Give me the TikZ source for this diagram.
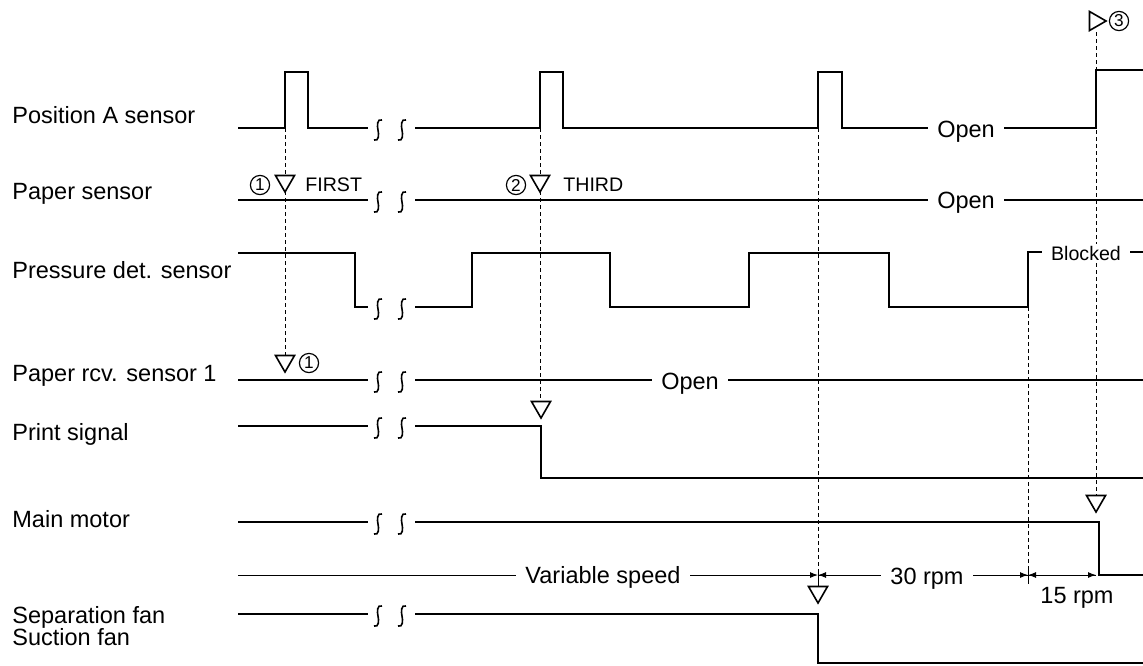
\documentclass[tikz,border=0pt]{standalone}
\usepackage{fontspec}
\setmainfont{Liberation Sans}
\usetikzlibrary{arrows.meta,shapes.geometric}

\begin{document}
\begin{tikzpicture}[x=0.5pt,y=-0.5pt,font=\fontsize{11.75}{14}\selectfont,
  sig/.style={line width=1.3pt},
  dim/.style={line width=0.5pt},
  guide/.style={line width=0.5pt,dash pattern=on 2pt off 1.5pt},
  lbl/.style={anchor=base west,inner sep=0pt},
  gap/.style={anchor=base,fill=white,inner xsep=4.5pt,inner ysep=1pt},
  small/.style={font=\fontsize{9.8}{12}\selectfont},
  circ/.style={circle,draw,line width=0.6pt,minimum size=9.6pt,inner sep=0pt,
    font=\fontsize{8.6}{9}\selectfont},
  tri/.style={regular polygon,regular polygon sides=3,shape border rotate=#1,draw,fill=white,
    line width=0.8pt,minimum size=11pt,inner sep=0pt,outer sep=0pt,anchor=corner 1},
  tip/.style={-{Latex[length=4pt,width=3pt]}},
  brk/.pic={\draw[line width=0.8pt] (4,-10) .. controls (-1,-12) and (-1,-4) .. (0,0)
    .. controls (1,4) and (1,12) .. (-4,10);}]
\useasboundingbox (0,0) rectangle (1143,665);

% row names
\foreach \n/\y/\t in {posa/123/Position A sensor,paper/199/Paper sensor,press/278/Pressure det. sensor,
  rcv/381/Paper rcv. sensor 1,print/440/Print signal,motor/527/Main motor,
  sep/623/Separation fan,suct/645/Suction fan}
  \node[lbl] (\n) at (12,\y) {\t};

% guide lines
\draw[guide] (285,128) -- (285,356);
\draw[guide] (540,128) -- (540,402);
\draw[guide] (818,128) -- (818,570);
\draw[guide] (1028,307) -- (1028,570);
\draw[guide] (1096,32) -- (1096,497);

% waveforms
\draw[sig] (238,128) -- (285,128) -- (285,72) -- (308,72) -- (308,128) -- (368,128);
\draw[sig] (415,128) -- (540,128) -- (540,72) -- (563,72) -- (563,128) -- (818,128) -- (818,72)
  -- (842,72) -- (842,128) -- (1096,128) -- (1096,70) -- (1143,70);
\draw[sig] (238,200) -- (368,200) (415,200) -- (1143,200);
\draw[sig] (238,253) -- (355,253) -- (355,307) -- (368,307);
\draw[sig] (415,307) -- (472,307) -- (472,253) -- (610,253) -- (610,307) -- (749,307) -- (749,253)
  -- (889,253) -- (889,307) -- (1028,307) -- (1028,252) -- (1143,252);
\draw[sig] (238,380) -- (368,380) (415,380) -- (1143,380);
\draw[sig] (238,426) -- (368,426) (415,426) -- (541,426) -- (541,478) -- (1143,478);
\draw[sig] (238,522) -- (368,522) (415,522) -- (1099,522) -- (1099,575) -- (1143,575);
\draw[sig] (238,614) -- (368,614) (415,614) -- (818,614) -- (818,663) -- (1143,663);

\foreach \y in {128,200,307,380,426,522,614} {
  \pic at (378,\y+2) {brk};
  \pic at (402,\y+2) {brk};
}

% speed ranges
\coordinate (v0) at (238,575);
\coordinate (v1) at (818,575);
\coordinate (v2) at (1028,575);
\coordinate (v3) at (1096,575);
\draw[dim,tip] (v0) -- (v1);
\draw[dim,tip] (v2) -- (v1);
\draw[dim,tip] (v1) -- (v2);
\draw[dim,tip] (v3) -- (v2);
\draw[dim,tip] (v2) -- (v3);
\draw[dim] (818,569) -- (818,588);
\draw[dim] (1028,569) -- (1028,584);

% markers
\node[tri=180] (tfirst) at (285,192) {};
\node[tri=180] (tthird) at (540,192) {};
\node[tri=180] (trcv) at (285,372) {};
\node[tri=180] (tprint) at (541,418) {};
\node[tri=180] (tmotor) at (1096,512) {};
\node[tri=180] (tfan) at (818,603) {};
\node[tri=-90] (tstop) at (1106,21) {};

\node[circ] (c1a) at (260,185) {1};
\node[circ] (c2) at (516,185) {2};
\node[circ] (c1b) at (309,363) {1};
\node[circ] (c3) at (1119,21) {3};
\node[small,anchor=base west,inner sep=0pt] (first) at (305,191) {FIRST};
\node[small,anchor=base west,inner sep=0pt] (third) at (563,191) {THIRD};

\node[gap] (opena) at (966,137) {Open};
\node[gap] (openb) at (966,208) {Open};
\node[gap] (openc) at (690,389) {Open};
\node[gap,small] (blk) at (1086,260) {Blocked};
\node[gap] (vspd) at (603,583) {Variable speed};
\node[gap] (rpm30) at (927,584) {30 rpm};
\node[anchor=base,inner sep=0pt] (rpm15) at (1077,603) {15 rpm};
\end{tikzpicture}
\end{document}
